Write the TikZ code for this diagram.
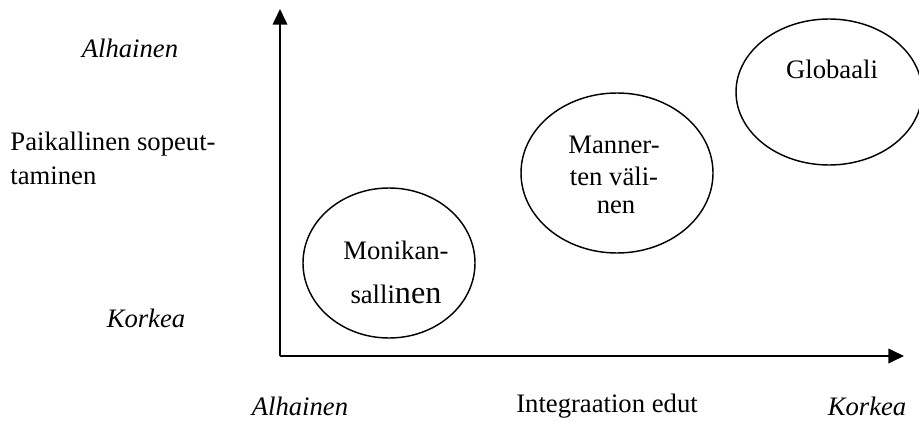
\documentclass[tikz,border=0pt]{standalone}
\usepackage{fontspec}
\setmainfont{Liberation Serif}
\usetikzlibrary{arrows.meta}

\begin{document}
\begin{tikzpicture}[x=0.45pt,y=-0.45pt,
  axis/.style={line width=0.9pt,-{Triangle[length=7pt,width=6.5pt]}},
  area/.style={line width=0.65pt},
  lbl/.style={font=\fontsize{12}{14}\selectfont,inner sep=0pt},
  ilbl/.style={lbl,font=\fontsize{12}{14}\selectfont\itshape}]
\useasboundingbox (0,0) rectangle (919,421);
\coordinate (O) at (280,356);
\coordinate (Ytop) at (280,9);
\coordinate (Xend) at (904,356);
\draw[axis] (O) -- (Ytop);
\draw[axis] (O) -- (Xend);
% areas
\draw[area] (389,263) ellipse [x radius=86,y radius=75];
\draw[area] (617,173) ellipse [x radius=96,y radius=80];
\draw[area] (829,92) ellipse [x radius=93,y radius=73];
\node[lbl] (M1) at (396,250) {Monikan-};
\node[lbl] (M2) at (396,294) {salli{\fontsize{14.5}{16}\selectfont nen}};
\node[lbl] (C1) at (614,145) {Manner-};
\node[lbl] (C2) at (614,176) {ten väli-};
\node[lbl] (C3) at (616,207) {nen};
\node[lbl] (G) at (832,69) {Globaali};
% y axis labels
\node[ilbl] (Ylow) at (130,48) {Alhainen};
\node[lbl,anchor=west] (Yt1) at (10,144) {Paikallinen sopeut-};
\node[lbl,anchor=west] (Yt2) at (10,176) {taminen};
\node[ilbl] (Yhigh) at (146,318) {Korkea};
% x axis labels
\node[ilbl] (Xlow) at (300,406) {Alhainen};
\node[lbl] (Xt) at (607,406) {Integraation edut};
\node[ilbl] (Xhigh) at (867,406) {Korkea};
\end{tikzpicture}
\end{document}
